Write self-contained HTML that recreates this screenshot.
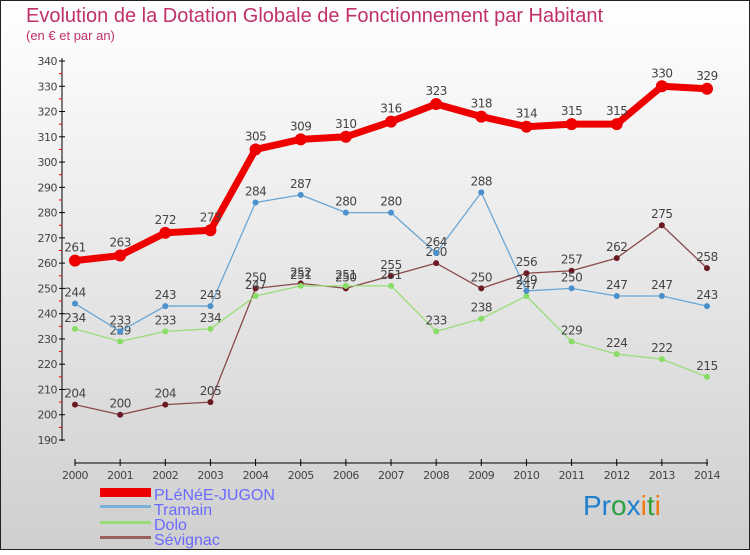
<!DOCTYPE html>
<html><head><meta charset="utf-8"><style>
html,body{margin:0;padding:0}
body{width:750px;height:550px;overflow:hidden;font-family:"Liberation Sans",sans-serif}
svg text{font-family:"DejaVu Sans","Liberation Sans",sans-serif}
svg text.lib{font-family:"Liberation Sans",sans-serif}
</style></head><body>
<svg id="chart" width="750" height="550" xmlns="http://www.w3.org/2000/svg">
<defs><linearGradient id="bg" x1="0" y1="0" x2="0" y2="1"><stop offset="0" stop-color="#ffffff"/><stop offset="1" stop-color="#cfcfcf"/></linearGradient></defs>
<rect x="0.5" y="0.5" width="749" height="549" fill="url(#bg)" stroke="#222" stroke-width="1"/>
<text class="lib" x="26" y="22" font-size="20" fill="#c0306a">Evolution de la Dotation Globale de Fonctionnement par Habitant</text>
<text class="lib" x="26" y="40" font-size="13" fill="#c0306a">(en € et par an)</text>
<g id="axes"></g>
<g id="series"></g>
<g>
<rect x="100" y="488" width="51" height="9" fill="#e00"/>
<text class="lib" x="154" y="500" font-size="16" fill="#6a6aff">PLéNéE-JUGON</text>
<rect x="100" y="505" width="51" height="3" fill="#7ab0d8"/>
<text class="lib" x="154" y="515" font-size="16" fill="#6a6aff">Tramain</text>
<rect x="100" y="521" width="51" height="3" fill="#99dd77"/>
<text class="lib" x="154" y="530" font-size="16" fill="#6a6aff">Dolo</text>
<rect x="100" y="536" width="51" height="3" fill="#9a6060"/>
<text class="lib" x="154" y="545" font-size="16" fill="#6a6aff">Sévignac</text>
</g>
<text class="lib" x="583" y="515" font-size="28"><tspan fill="#1e7fd0">Pr</tspan><tspan fill="#2aa040">o</tspan><tspan fill="#1e7fd0">x</tspan><tspan fill="#f07a10">i</tspan><tspan fill="#30a030">t</tspan><tspan fill="#f07a10">i</tspan></text>
</svg>
<script>
const years=[2000,2001,2002,2003,2004,2005,2006,2007,2008,2009,2010,2011,2012,2013,2014];
const plene=[261,263,272,273,305,309,310,316,323,318,314,315,315,330,329];
const tramain=[244,233,243,243,284,287,280,280,264,288,249,250,247,247,243];
const dolo=[234,229,233,234,247,251,251,251,233,238,247,229,224,222,215];
const sevignac=[204,200,204,205,250,252,250,255,260,250,256,257,262,275,258];
const yTicks=[190,200,210,220,230,240,250,260,270,280,290,300,310,320,330,340];
const NS="http://www.w3.org/2000/svg";
const X=i=>75+i*(707-75)/14;
const Y=v=>440-(v-190)*(379/150);
const ax=document.getElementById('axes'),sg=document.getElementById('series');
function mk(tag,attrs,parent){const e=document.createElementNS(NS,tag);for(const k in attrs)e.setAttribute(k,attrs[k]);parent.appendChild(e);return e;}
let l=mk('line',{x1:62,y1:58,x2:62,y2:441,stroke:'#000','stroke-width':1},ax);


yTicks.forEach(v=>{
 const t=mk('line',{x1:59,x2:65,y1:Y(v),y2:Y(v),stroke:'#000'},ax);
 
 
 if(v<340){const m=mk('line',{x1:59,x2:62,y1:Y(v+5),y2:Y(v+5),stroke:'#e00'},ax);
 
 }
 const tx=mk('text',{x:57,y:Y(v)+4,'font-size':11,fill:'#444','text-anchor':'end','letter-spacing':'-0.5'},ax);
 tx.textContent=v;
 
 
});
l=mk('line',{x1:75,y1:463,x2:708,y2:463,stroke:'#000'},ax);


years.forEach((yr,i)=>{
 const t=mk('line',{x1:X(i),x2:X(i),y1:459,y2:466,stroke:'#000'},ax);
 
 
 const tx=mk('text',{x:X(i),y:465+14,'font-size':11,fill:'#444','text-anchor':'middle','letter-spacing':'-0.5'},ax);
 tx.textContent=yr;
 
 
});
function series(name,data,color,w,r,dot,fs){
 const p=mk('polyline',{points:data.map((v,i)=>X(i)+','+Y(v)).join(' '),fill:'none',stroke:color,'stroke-width':w,'stroke-linejoin':'round'},sg);
 
 
 data.forEach((v,i)=>{
  const c=mk('circle',{cx:X(i),cy:Y(v),r:r,fill:dot},sg);
  
  
  const tx=mk('text',{x:X(i),y:Y(v)-(w>3?9:7),'font-size':fs,fill:'#444','text-anchor':'middle','letter-spacing':'-0.5'},sg);
  tx.textContent=v;
  
  
 });
}
series('sevignac',sevignac,'#8a4a4a',1.3,3,'#6a1a22',12);
series('dolo',dolo,'#99dd77',1.3,3,'#88dd66',12);
series('tramain',tramain,'#6aa6d4',1.3,3,'#4a90cc',12);
series('plene-jugon',plene,'#ee0000',7,6,'#ee0000',12);
</script>
</body></html>
